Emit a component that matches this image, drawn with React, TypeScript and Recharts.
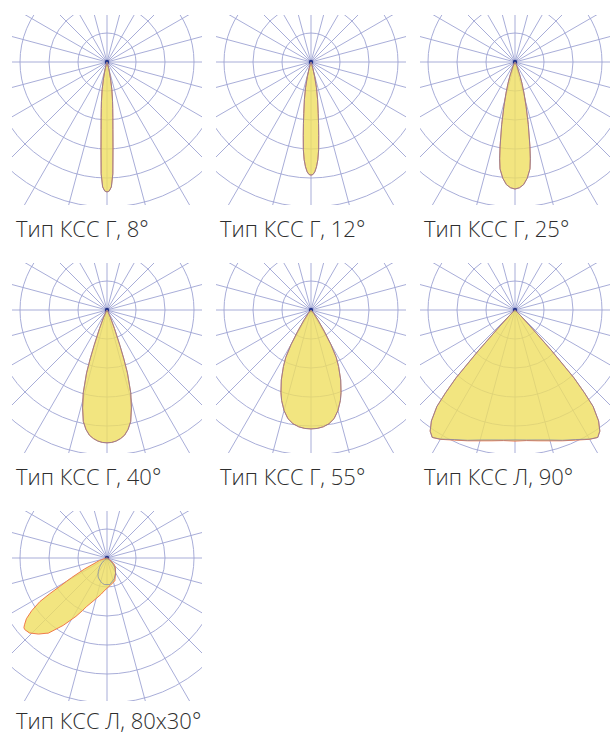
import { RadarChart, PolarGrid, PolarAngleAxis, PolarRadiusAxis, Radar } from 'recharts';

// grid: rings every 1 unit, radial lines every 15°
const GRID_ANGLES = [0, 15, 30, 45, 60, 75, 90, 105, 120, 135, 150, 165, 180, 195, 210, 225, 240, 255, 270, 285, 300, 315, 330, 345];
const RING_RADII = [29, 58, 87, 116, 145, 174];

// angle from nadir (positive = left side), value in ring units
const angles8 = [-25, -20, -15, -12, -10, -8, -7, -6, -5, -4, -3, -2, -1, 0, 1, 2, 3, 4, 5, 6, 7, 8, 10, 12, 15, 20, 25];
const curve8 = [0, 0.03, 0.24, 0.59, 0.97, 1.38, 1.62, 1.93, 2.34, 2.97, 3.86, 4.31, 4.45, 4.48, 4.45, 4.31, 3.86, 2.97, 2.34, 1.93, 1.62, 1.38, 0.97, 0.59, 0.24, 0.03, 0];

const angles12 = [-25, -20, -16, -14, -12, -10, -8, -7, -6, -5, -4, -3, -2, -1, 0, 1, 2, 3, 4, 5, 6, 7, 8, 10, 12, 14, 16, 20, 25];
const curve12 = [0, 0.07, 0.24, 0.52, 0.9, 1.31, 1.79, 2.14, 2.55, 3.03, 3.38, 3.62, 3.79, 3.88, 3.9, 3.88, 3.79, 3.62, 3.38, 3.03, 2.55, 2.14, 1.79, 1.31, 0.9, 0.52, 0.24, 0.07, 0];

const angles25 = [-35, -30, -25, -20, -18, -16, -14, -12, -10, -9, -8, -6, -4, -2, 0, 2, 4, 6, 8, 9, 10, 12, 14, 16, 18, 20, 25, 30, 35];
const curve25 = [0, 0.03, 0.17, 0.52, 0.79, 1.14, 1.59, 2.21, 2.97, 3.38, 3.72, 4.03, 4.24, 4.34, 4.38, 4.34, 4.24, 4.03, 3.72, 3.38, 2.97, 2.21, 1.59, 1.14, 0.79, 0.52, 0.17, 0.03, 0];

const angles40 = [-35, -30, -25, -22, -20, -19, -18, -16, -14, -12, -10, -8, -6, -4, -2, 0, 2, 4, 6, 8, 10, 12, 14, 16, 18, 19, 20, 22, 25, 30, 35];
const curve40 = [0, 0.07, 0.28, 0.69, 1.31, 1.79, 2.28, 2.97, 3.48, 3.93, 4.18, 4.36, 4.46, 4.53, 4.57, 4.58, 4.57, 4.53, 4.46, 4.36, 4.18, 3.93, 3.48, 2.97, 2.28, 1.79, 1.31, 0.69, 0.28, 0.07, 0];

const angles55 = [-50, -45, -40, -35, -32, -30, -28, -26, -23, -20, -18, -15, -12, -9, -6, -3, 0, 3, 6, 9, 12, 15, 18, 20, 23, 26, 28, 30, 32, 35, 40, 45, 50];
const curve55 = [0, 0.03, 0.14, 0.41, 0.86, 1.38, 1.86, 2.17, 2.62, 3.03, 3.28, 3.59, 3.83, 3.97, 4.05, 4.09, 4.1, 4.09, 4.05, 3.97, 3.83, 3.59, 3.28, 3.03, 2.62, 2.17, 1.86, 1.38, 0.86, 0.41, 0.14, 0.03, 0];

const angles90 = [-55, -50, -45, -43, -42, -41, -40, -39, -37, -35, -33, -30, -25, -20, -15, -10, -5, 0, 5, 10, 15, 20, 25, 30, 33, 35, 37, 39, 40, 41, 42, 43, 45, 50, 55];
const c0_90 = [0, 0.07, 0.28, 0.86, 1.9, 3.1, 3.72, 4.28, 4.79, 5.1, 5.24, 5.14, 4.93, 4.78, 4.64, 4.55, 4.5, 4.48, 4.5, 4.55, 4.64, 4.78, 4.93, 5.14, 5.24, 5.1, 4.79, 4.28, 3.72, 3.1, 1.9, 0.86, 0.28, 0.07, 0];
const c90_90 = [0, 0.07, 0.28, 0.86, 1.9, 3.1, 3.72, 4.28, 4.79, 5.1, 5.24, 5.15, 4.95, 4.8, 4.67, 4.58, 4.52, 4.52, 4.52, 4.58, 4.67, 4.8, 4.95, 5.15, 5.24, 5.1, 4.79, 4.28, 3.72, 3.1, 1.9, 0.86, 0.28, 0.07, 0];

const angles80 = [-85, -75, -60, -50, -45, -40, -30, -19, -6, 5, 9, 15, 23, 25, 28, 33, 38, 39, 42, 46, 49, 50, 51, 53, 55, 57, 58, 59, 60, 61, 64, 68, 72, 78, 85];
const c0_80 = [0, 0, 0, 0.15, 0.28, 0.41, 0.6, 0.76, 0.92, 0.92, 0.9, 0.84, 0.75, 0.72, 0.66, 0.55, 0.42, 0.4, 0.33, 0.24, 0.16, 0.12, 0.1, 0.06, 0.03, 0, 0, 0, 0, 0, 0, 0, 0, 0, 0];
const c90_80 = [0, 0, 0.1, 0.3, 0.38, 0.45, 0.59, 0.83, 0.96, 1.14, 1.26, 1.45, 1.83, 2.0, 2.28, 2.77, 3.29, 3.34, 3.53, 3.72, 3.76, 3.74, 3.66, 3.48, 3.17, 2.76, 2.35, 1.9, 1.62, 1.4, 0.86, 0.4, 0.27, 0.05, 0];

const titles = [
  'Тип КСС Г, 8°',
  'Тип КСС Г, 12°',
  'Тип КСС Г, 25°',
  'Тип КСС Г, 40°',
  'Тип КСС Г, 55°',
  'Тип КСС Л, 90°',
  'Тип КСС Л, 80x30°',
];

const panels = [
  { angles: angles8, c0: curve8, c90: curve8 },
  { angles: angles12, c0: curve12, c90: curve12 },
  { angles: angles25, c0: curve25, c90: curve25 },
  { angles: angles40, c0: curve40, c90: curve40 },
  { angles: angles55, c0: curve55, c90: curve55 },
  { angles: angles90, c0: c0_90, c90: c90_90 },
  { angles: angles80, c0: c0_80, c90: c90_80 },
];

const SIZE = 190;

function PolarPanel({ angles, c0, c90, title, left, top, labelShift }: any) {
  const data = angles.map((a: number, i: number) => ({ angle: a, c0: c0[i], c90: c90[i] }));
  return (
    <>
      <div style={{ position: 'absolute', left, top, width: SIZE, height: SIZE, overflow: 'hidden' }}>
        <RadarChart
          width={SIZE}
          height={SIZE}
          data={data}
          cx={95}
          cy={47}
          innerRadius={0}
          outerRadius={174}
          startAngle={90}
          endAngle={-270}
          margin={{ top: 0, right: 0, bottom: 0, left: 0 }}
        >
          <PolarGrid gridType="circle" polarAngles={GRID_ANGLES} polarRadius={RING_RADII} stroke="#9ea4d4" strokeWidth={0.9} />
          <PolarAngleAxis dataKey="angle" type="number" domain={[-180, 180]} allowDataOverflow tick={false} axisLine={false} tickLine={false} />
          <PolarRadiusAxis type="number" domain={[0, 6]} tickCount={7} allowDataOverflow tick={false} axisLine={false} />
          <Radar dataKey="c90" stroke="#f07a4a" strokeWidth={1} fill="#efdf60" fillOpacity={0.8} dot={false} isAnimationActive={false} />
          <Radar dataKey="c0" stroke="#7480ae" strokeWidth={0.7} fill="#efdf60" fillOpacity={0} dot={false} isAnimationActive={false} />
          <PolarGrid gridType="circle" polarAngles={[]} polarRadius={[1.2]} radialLines={false} stroke="#24348a" strokeWidth={2} />
        </RadarChart>
      </div>
      <div
        style={{
          position: 'absolute',
          left: left + 4,
          top: top + SIZE + 15 - labelShift,
          fontFamily: "'Open Sans', 'Noto Sans', sans-serif",
          fontWeight: 300,
          fontSize: 22,
          lineHeight: '16px',
          color: '#2e2e2e',
          whiteSpace: 'nowrap',
        }}
      >
        {title}
      </div>
    </>
  );
}

export default function App() {
  return (
    <div style={{ position: 'absolute', left: 0, top: 0, width: 610, height: 736, background: '#fff' }}>
      {panels.map((p, i) => (
        <PolarPanel
          key={titles[i]}
          {...p}
          title={titles[i]}
          left={12 + (i % 3) * 204}
          top={15 + Math.floor(i / 3) * 248}
          labelShift={i === 6 ? 4 : 0}
        />
      ))}
    </div>
  );
}
